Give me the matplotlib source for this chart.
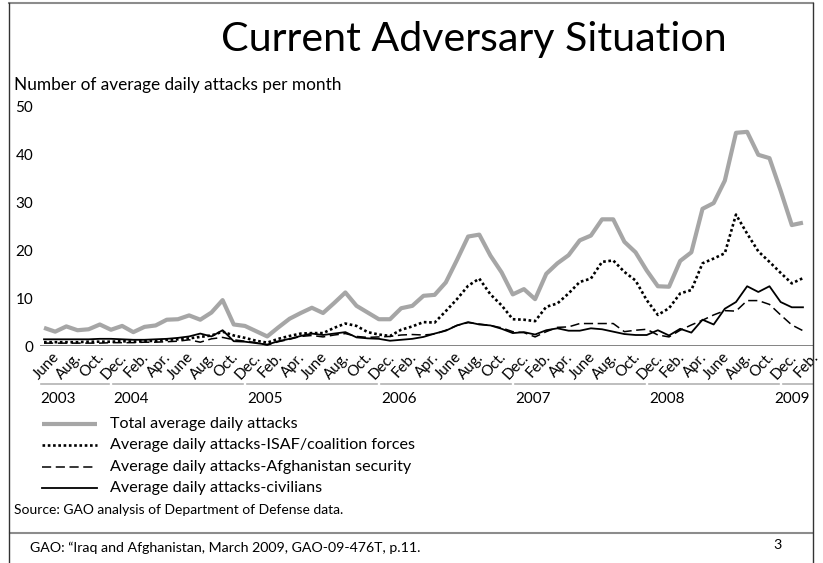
import matplotlib
matplotlib.use("Agg")
import matplotlib.pyplot as plt
from matplotlib.lines import Line2D
from matplotlib.transforms import ScaledTranslation, blended_transform_factory
import numpy as np

plt.rcParams['font.family'] = ['Lato', 'DejaVu Sans']

# average daily attacks per month, June 2003 - February 2009
total = [3.8, 3.0, 4.1, 3.3, 3.5, 4.5, 3.4,
         4.2, 2.9, 4.0, 4.3, 5.5, 5.6, 6.4, 5.5, 7.0, 9.6, 4.5, 4.2,
         3.1, 2.0, 3.9, 5.7, 6.9, 8.0, 6.9, 9.0, 11.2, 8.4, 7.0, 5.6,
         5.6, 7.9, 8.4, 10.5, 10.7, 13.3, 18.0, 22.9, 23.3, 18.9, 15.4, 10.8,
         11.9, 9.8, 15.1, 17.3, 19.0, 22.1, 23.1, 26.5, 26.5, 21.8, 19.6, 15.8,
         12.5, 12.4, 17.8, 19.6, 28.7, 29.9, 34.6, 44.6, 44.8, 40.0, 39.3, 32.5,
         25.3, 25.8]
isaf = [0.8, 0.8, 0.8, 0.8, 0.9, 0.9, 0.9,
        1.0, 0.9, 1.0, 1.1, 1.3, 1.4, 1.6, 1.9, 2.2, 3.0, 2.2, 1.7,
        1.1, 0.7, 1.5, 2.1, 2.6, 2.7, 2.7, 3.8, 4.7, 4.2, 2.9, 2.4,
        2.1, 3.4, 4.1, 5.0, 4.9, 7.3, 9.8, 12.6, 14.1, 10.8, 8.5, 5.6,
        5.5, 5.2, 8.2, 8.9, 11.0, 13.4, 14.1, 17.6, 17.9, 15.5, 13.7, 9.6,
        6.5, 7.9, 11.0, 11.7, 17.3, 18.3, 19.4, 27.5, 23.5, 19.8, 17.6, 15.3,
        13.1, 14.2]
afghan = [0.6, 0.6, 0.6, 0.6, 0.6, 0.6, 0.7,
          0.7, 0.7, 0.8, 0.8, 0.9, 1.0, 1.3, 0.8, 1.5, 1.8, 1.3, 1.0,
          0.7, 0.2, 0.9, 1.4, 2.0, 2.2, 1.9, 2.3, 2.6, 2.0, 1.8, 1.9,
          2.0, 2.3, 2.4, 2.3, 2.5, 3.3, 4.3, 4.9, 4.6, 4.3, 3.8, 3.0,
          2.8, 1.9, 3.0, 3.9, 4.0, 4.7, 4.7, 4.7, 4.7, 3.0, 3.3, 3.5,
          2.3, 1.9, 3.3, 4.4, 5.4, 6.5, 7.4, 7.3, 9.5, 9.5, 8.7, 6.5,
          4.4, 3.2]
civilians = [1.4, 1.4, 1.4, 1.4, 1.4, 1.5, 1.5,
             1.4, 1.3, 1.3, 1.4, 1.5, 1.7, 2.0, 2.6, 2.0, 3.3, 1.0, 0.9,
             0.6, 0.3, 1.0, 1.5, 2.1, 2.6, 2.3, 2.6, 2.9, 1.8, 1.6, 1.5,
             1.1, 1.3, 1.5, 1.9, 2.6, 3.2, 4.3, 5.0, 4.5, 4.3, 3.6, 2.7,
             2.9, 2.4, 3.3, 3.7, 3.2, 3.2, 3.7, 3.5, 3.0, 2.5, 2.3, 2.3,
             3.3, 2.2, 3.6, 2.8, 5.5, 4.5, 7.8, 9.2, 12.5, 11.3, 12.5, 9.2,
             8.1, 8.1]

years = ['2003', '2004', '2005', '2006', '2007', '2008', '2009']
months_per_year = [7, 12, 12, 12, 12, 12, 2]
month_labels = (['June', 'Aug.', 'Oct.', 'Dec.']
                + ['Feb.', 'Apr.', 'June', 'Aug.', 'Oct.', 'Dec.'] * 5
                + ['Feb.'])
series_names = ['Total average daily attacks',
                'Average daily attacks-ISAF/coalition forces',
                'Average daily attacks-Afghanistan security',
                'Average daily attacks-civilians']

W, H = 823, 563
fig = plt.figure(figsize=(W / 100, H / 100), dpi=100)


def fx(px):
    return px / W


def fy(py):
    return 1 - py / H


styles = [dict(color='#a6a6a6', lw=3.0, solid_capstyle='butt'),
          dict(color='black', lw=1.9, ls=(0, (1, 1))),
          dict(color='black', lw=1.1, ls=(0, (6, 3))),
          dict(color='black', lw=1.3)]

ax = fig.add_axes([fx(40), fy(346), fx(813) - fx(40), fy(107) - fy(346)])
x = np.arange(len(total))
for vals, st in zip([total, isaf, afghan, civilians], styles):
    ax.plot(x, vals, **st, zorder=3)
ax.axhline(0, color='#6e6e6e', lw=1.2, zorder=2)

XMAX = 68.9
ax.set_xlim(-0.36, XMAX)
ax.set_ylim(0, 50)
for s in ax.spines.values():
    s.set_visible(False)

ax.set_yticks(range(0, 51, 10))
ax.tick_params(axis='y', length=0, pad=5, labelsize=11)
ax.set_xticks(x[::2])
ax.set_xticklabels(month_labels, rotation=47, ha='right', va='top',
                   rotation_mode='anchor', fontsize=10.8)
ax.tick_params(axis='x', length=0, pad=3)
shift = ScaledTranslation(0.08, 0, fig.dpi_scale_trans)
for lab in ax.get_xticklabels():
    lab.set_transform(lab.get_transform() + shift)

# year bands under the month labels
trans = blended_transform_factory(ax.transData, fig.transFigure)
start = 0
for i, (yr, n) in enumerate(zip(years, months_per_year)):
    last = i == len(years) - 1
    a = start - 0.8 if start else -0.3
    b = XMAX if last else start + n - 1.15
    fig.add_artist(Line2D([a, b], [fy(384)] * 2, transform=trans,
                          color='#b3b3b3', lw=1.2))
    if last:
        ax.text(b - 0.25, fy(399), yr, transform=trans, ha='right',
                va='center', fontsize=11)
    else:
        ax.text(a, fy(399), yr, transform=trans, ha='left', va='center',
                fontsize=11)
    start += n

# legend
for i, (name, st) in enumerate(zip(series_names, styles)):
    yy = fy(424 + i * 21.3)
    fig.add_artist(Line2D([fx(42), fx(97)], [yy, yy], **st))
    fig.text(fx(110), yy, name, ha='left', va='center', fontsize=11.6)

fig.text(fx(474), fy(40), 'Current Adversary Situation',
         ha='center', va='center', fontsize=29.6)
fig.text(fx(14), fy(85), 'Number of average daily attacks per month',
         ha='left', va='center', fontsize=12.4)
fig.text(fx(14), fy(510), 'Source: GAO analysis of Department of Defense data.',
         ha='left', va='center', fontsize=10)
fig.text(fx(30), fy(548), 'GAO: \u201cIraq and Afghanistan, March 2009, GAO-09-476T, p.11.',
         ha='left', va='center', fontsize=10.2)
fig.text(fx(773), fy(545), '3', ha='left', va='center', fontsize=10.2)

# page frame
fig.add_artist(Line2D([fx(10), fx(812)], [fy(533)] * 2, color='#8c8c8c', lw=1.5))
fig.add_artist(Line2D([fx(9), fx(813)], [fy(3)] * 2, color='#8c8c8c', lw=1.5))
fig.add_artist(Line2D([fx(9), fx(9)], [fy(3), 0], color='#333333', lw=1))
fig.add_artist(Line2D([fx(813), fx(813)], [fy(3), 0], color='#333333', lw=1))

fig.savefig('out.png', dpi=100)
